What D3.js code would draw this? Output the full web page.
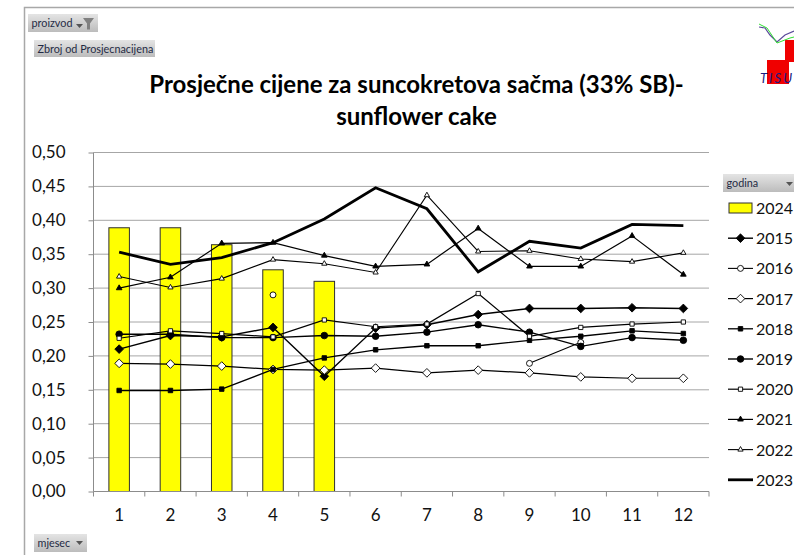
<!DOCTYPE html>
<html><head><meta charset="utf-8">
<script src="https://cdn.jsdelivr.net/npm/d3@7"></script>
<style>html,body{margin:0;padding:0;background:#fff;overflow:hidden}svg{display:block}text{font-family:Lato,"Open Sans",sans-serif}</style>
</head><body><div id="c"></div>
<script>
const months=[1,2,3,4,5,6,7,8,9,10,11,12];
const yTicks=[0,0.05,0.10,0.15,0.20,0.25,0.30,0.35,0.40,0.45,0.50];
const titleLines=["Prosječne cijene za suncokretova sačma (33% SB)-","sunflower cake"];
const bar2024=[0.389,0.389,0.364,0.327,0.310,null,null,null,null,null,null,null];
const s2015=[0.210,0.230,0.228,0.242,0.170,0.241,0.246,0.261,0.270,0.270,0.271,0.270];
const s2016=[null,null,null,0.290,null,null,null,null,0.189,0.220,null,null];
const s2017=[0.189,0.188,0.185,0.180,0.179,0.182,0.175,0.179,0.175,0.169,0.167,0.167];
const s2018=[0.149,0.149,0.151,0.180,0.197,0.209,0.215,0.215,0.223,0.229,0.237,0.233];
const s2019=[0.232,0.232,0.227,0.227,0.230,0.229,0.235,0.246,0.235,0.214,0.227,0.223];
const s2020=[0.226,0.237,0.233,0.228,0.253,0.243,0.247,0.292,0.229,0.242,0.247,0.250];
const s2021=[0.300,0.316,0.366,0.367,0.348,0.332,0.335,0.388,0.332,0.332,0.377,0.320];
const s2022=[0.317,0.301,0.314,0.342,0.336,0.323,0.437,0.354,0.355,0.343,0.339,0.352];
const s2023=[0.353,0.335,0.345,0.367,0.402,0.448,0.417,0.324,0.369,0.359,0.394,0.392];
const series=[
 {name:"2015",v:s2015,sym:d3.symbolDiamond2,size:48,fill:"#000",w:1.4},
 {name:"2016",v:s2016,sym:d3.symbolCircle,size:28,fill:"#fff",w:1.1},
 {name:"2017",v:s2017,sym:d3.symbolDiamond2,size:48,fill:"#fff",w:1.2},
 {name:"2018",v:s2018,sym:d3.symbolSquare,size:20,fill:"#000",w:1.3},
 {name:"2019",v:s2019,sym:d3.symbolCircle,size:34,fill:"#000",w:1.4},
 {name:"2020",v:s2020,sym:d3.symbolSquare,size:18,fill:"#fff",w:1.2},
 {name:"2021",v:s2021,sym:d3.symbolTriangle,size:14,fill:"#000",w:1.2},
 {name:"2022",v:s2022,sym:d3.symbolTriangle,size:12,fill:"#fff",w:1.1},
 {name:"2023",v:s2023,sym:null,w:2.8}
];
const W=794,H=555;
const svg=d3.select("#c").append("svg").attr("width",W).attr("height",H);
const defs=svg.append("defs");
const g0=defs.append("linearGradient").attr("id","btn").attr("x1",0).attr("y1",0).attr("x2",0).attr("y2",1);
g0.append("stop").attr("offset",0).attr("stop-color","#e4e4e4");
g0.append("stop").attr("offset",1).attr("stop-color","#bcbcbc");

// chart frame
svg.append("path").attr("d",`M24.5 ${H}V7.5H${W}`).attr("fill","none").attr("stroke","#a8a8a8").attr("stroke-width",1.5);

const plotL=93.5,plotR=709,plotT=152.5,plotB=491.5;
const x=d3.scaleBand().domain(months).range([plotL,plotR]).paddingInner(0.6).paddingOuter(0.3);
const cx=m=>x(m)+x.bandwidth()/2;
const y=d3.scaleLinear().domain([0,0.5]).range([plotB,plotT]);
const fmt=d=>d3.format(".2f")(d).replace(".",",");
const axisCol="#8c8c8c";

// grid
svg.append("g").selectAll("line").data(yTicks.slice(1)).join("line")
 .attr("x1",plotL).attr("x2",plotR).attr("y1",d=>y(d)).attr("y2",d=>y(d))
 .attr("stroke","#a6a6a6").attr("stroke-width",1);

// bars
svg.append("g").selectAll("rect").data(months.map((m,i)=>({m,v:bar2024[i]})).filter(d=>d.v!=null)).join("rect")
 .attr("x",d=>x(d.m)).attr("width",x.bandwidth()).attr("y",d=>y(d.v)).attr("height",d=>y(0)-y(d.v))
 .attr("fill","#ffff00").attr("stroke","#303030").attr("stroke-width",1);

// axes
const ay=svg.append("g").attr("transform",`translate(${plotL},0)`).call(d3.axisLeft(y).tickValues(yTicks).tickFormat(fmt).tickSize(5).tickPadding(23));
ay.selectAll("text").attr("font-size",17).attr("fill","#111");
ay.selectAll("path,line").attr("stroke",axisCol);
ay.select("path").attr("d",`M0 ${plotT}V${plotB}`);
const ax=svg.append("g").attr("transform",`translate(0,${plotB})`);
const edges=d3.scaleLinear().domain([0,12]).range([plotL,plotR]);
ax.append("line").attr("x1",plotL).attr("x2",plotR).attr("stroke",axisCol);
ax.selectAll(".t").data(d3.range(13)).join("line").attr("class","t")
 .attr("x1",d=>edges(d)).attr("x2",d=>edges(d)).attr("y2",5).attr("stroke",axisCol);
ax.selectAll("text").data(months).join("text").attr("x",d=>cx(d)).attr("y",29).attr("text-anchor","middle")
 .attr("font-size",17).attr("fill","#111").text(d=>d);

// lines
const line=d3.line().defined(d=>d.v!=null).x(d=>cx(d.m)).y(d=>y(d.v));
series.forEach(s=>{
 const pts=months.map((m,i)=>({m,v:s.v[i]}));
 const g=svg.append("g");
 g.append("path").attr("d",line(pts)).attr("fill","none").attr("stroke","#000").attr("stroke-width",s.w);
 if(s.sym){
  g.selectAll("path.m").data(pts.filter(d=>d.v!=null)).join("path").attr("class","m")
   .attr("d",d3.symbol().type(s.sym).size(s.size))
   .attr("transform",d=>`translate(${cx(d.m)},${y(d.v)})`)
   .attr("fill",s.fill).attr("stroke","#000").attr("stroke-width",0.9);
 }
});

// title
svg.append("g").selectAll("text").data(titleLines).join("text")
 .attr("x",416.5).attr("y",(d,i)=>93+i*32).attr("text-anchor","middle")
 .attr("font-size",24).attr("font-weight",700).attr("fill","#000").text(d=>d);

// pivot buttons
function button(bx,by,w,h,label){
 svg.append("rect").attr("x",bx).attr("y",by).attr("width",w).attr("height",h).attr("fill","url(#btn)");
 svg.append("text").attr("x",bx+3.5).attr("y",by+h/2+4).attr("font-size",10.8).attr("fill","#1f2a44").text(label);
}
const arrow=(ax0,ay0)=>svg.append("path").attr("d",`M${ax0} ${ay0}h7l-3.5 4z`).attr("fill","#555");
button(28,14,70,18,"proizvod");
arrow(76,24);
svg.append("path").attr("d","M83 18h11l-4 5.5v6h-3v-6z").attr("fill","#808080");
button(34,40,121,17,"Zbroj od Prosjecnacijena");
button(34,534,53,18,"mjesec");
arrow(76,541);
button(723,174,71,18,"godina");
arrow(786,182);

// legend
const legY=i=>208+i*30.2;
const leg=svg.append("g");
leg.append("rect").attr("x",729).attr("y",legY(0)-5).attr("width",23).attr("height",10).attr("fill","#ffff00").attr("stroke","#303030");
leg.append("text").attr("x",756).attr("y",legY(0)+6).attr("font-size",16).attr("fill","#111").text("2024");
series.forEach((s,i)=>{
 const yy=legY(i+1);
 leg.append("line").attr("x1",728).attr("x2",753).attr("y1",yy).attr("y2",yy).attr("stroke","#000").attr("stroke-width",s.w);
 if(s.sym) leg.append("path").attr("d",d3.symbol().type(s.sym).size(s.size)).attr("transform",`translate(740.5,${yy})`)
  .attr("fill",s.fill).attr("stroke","#000").attr("stroke-width",0.9);
 leg.append("text").attr("x",756).attr("y",yy+6).attr("font-size",16).attr("fill","#111").text(s.name);
});

// logo
const logo=svg.append("g");
logo.append("rect").attr("x",785).attr("y",40).attr("width",9).attr("height",22).attr("fill","#f00000");
logo.append("rect").attr("x",767).attr("y",60).attr("width",22).attr("height",24).attr("fill","#f00000");
logo.append("path").attr("d","M759 27L765 28L770 35L777 42L785 35L794 31").attr("fill","none").attr("stroke","#5a4a9a").attr("stroke-width",1.2);
logo.append("path").attr("d","M759 24L767 28L777 43L790 38L794 37").attr("fill","none").attr("stroke","#30e030").attr("stroke-width",1);
logo.append("text").attr("x",760).attr("y",83).attr("font-size",13).attr("font-style","italic").attr("letter-spacing",2).attr("fill","#1a1a80").text("TISU");
</script></body></html>
